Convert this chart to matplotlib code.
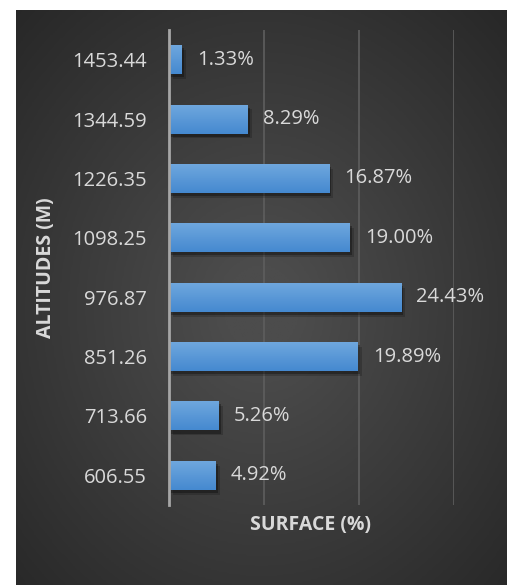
import numpy as np
import matplotlib.pyplot as plt
import matplotlib.patheffects as pe
from matplotlib.colors import LinearSegmentedColormap

altitudes = ['606.55', '713.66', '851.26', '976.87', '1098.25', '1226.35', '1344.59', '1453.44']
surface = [4.92, 5.26, 19.89, 24.43, 19.00, 16.87, 8.29, 1.33]

W, H = 507, 585
fig = plt.figure(figsize=(W / 100, H / 100), dpi=100)
fig.patch.set_facecolor('white')

# dark panel with a soft radial glow
bg = fig.add_axes([16 / W, 0, (W - 16) / W, (H - 10) / H])
yy, xx = np.mgrid[0:1:300j, 0:1:300j]
r = np.sqrt(((xx - 0.5) / 0.75) ** 2 + ((yy - 0.52) / 0.75) ** 2)
glow = np.clip(1 - r, 0, 1)
bg_cmap = LinearSegmentedColormap.from_list('bg', ['#262626', '#4c4c4c'])
bg.imshow(glow, cmap=bg_cmap, aspect='auto', extent=[0, 1, 0, 1], vmin=0, vmax=0.9)
bg.axis('off')

ax = fig.add_axes([169 / W, 1 - 505 / H, (454 - 169) / W, (505 - 30) / H])
ax.patch.set_alpha(0)
y = np.arange(len(altitudes))
bars = ax.barh(y, surface, height=0.49, color='#5b9bd5', zorder=3)
ax.set_xlim(0, 30)
ax.set_ylim(-0.5, len(altitudes) - 0.5)

bar_cmap = LinearSegmentedColormap.from_list('bar', ['#4589d0', '#70a8de'])
grad = np.linspace(0, 1, 64).reshape(-1, 1)
for b, v in zip(bars, surface):
    b.set_path_effects([pe.SimplePatchShadow(offset=(3, -3.5), shadow_rgbFace='black', alpha=0.18),
                        pe.SimplePatchShadow(offset=(1.5, -2.2), shadow_rgbFace='black', alpha=0.3),
                        pe.Normal()])
    x0, y0 = b.get_x(), b.get_y()
    im = ax.imshow(grad, cmap=bar_cmap, aspect='auto', origin='lower',
                   extent=[x0, x0 + b.get_width(), y0, y0 + b.get_height()], zorder=4)
    im.set_clip_path(b)
    ax.annotate(f'{v:.2f}%', (v, b.get_y() + b.get_height() / 2), xytext=(11, 0),
                textcoords='offset points', va='center', ha='left',
                color='#d9d9d9', fontsize=14.5, family='Open Sans')

ax.set_xticks([0, 10, 20, 30])
ax.xaxis.grid(True, color='#5e5e5e', linewidth=1.2, zorder=0)
ax.set_xticklabels([])
ax.tick_params(axis='x', length=0)
ax.set_yticks(y)
ax.set_yticklabels(altitudes, color='#d9d9d9', fontsize=14.5, family='Open Sans')
ax.tick_params(axis='y', length=0, pad=16)
for s in ['top', 'right', 'bottom']:
    ax.spines[s].set_visible(False)
ax.spines['left'].set_color('#a6a6a6')
ax.spines['left'].set_linewidth(2)
ax.spines['left'].set_zorder(5)

fig.text(311 / W, 1 - 525 / H, 'SURFACE (%)', ha='center', va='center',
         color='#d9d9d9', fontsize=14, fontweight='bold', family='Open Sans')
fig.text(46 / W, 1 - 268 / H, 'ALTITUDES (M)', ha='center', va='center', rotation=90,
         color='#d9d9d9', fontsize=14, fontweight='bold', family='Open Sans')

fig.savefig('out.png', dpi=100)
